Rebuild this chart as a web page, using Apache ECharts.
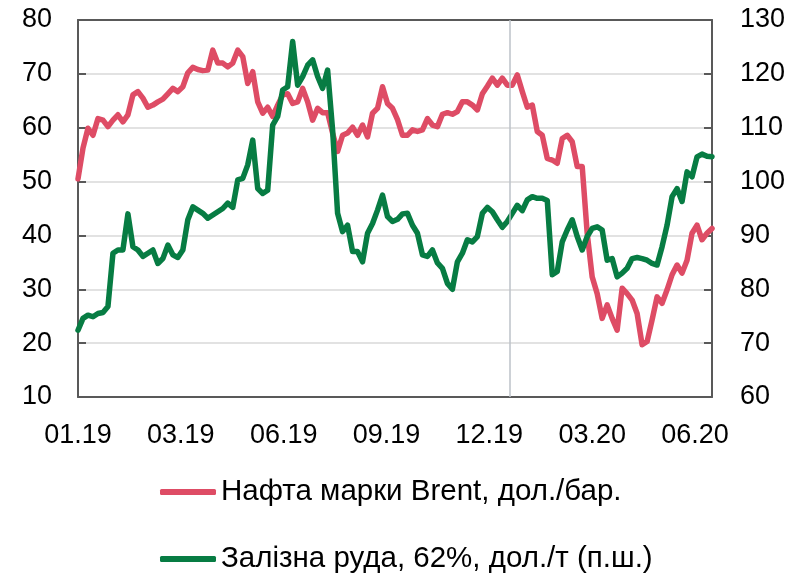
<!DOCTYPE html>
<html>
<head>
<meta charset="utf-8">
<script src="https://cdn.jsdelivr.net/npm/echarts@6/dist/echarts.min.js"></script>
<style>
html,body{margin:0;padding:0;background:#fff;}
#chart{width:802px;height:577px;}
</style>
</head>
<body>
<div id="chart"></div>
<script>
// x tick labels (evenly spaced along the sampled series)
var tickLabels = ['01.19','03.19','06.19','09.19','12.19','03.20','06.20'];
var tickStep = 20.6;          // samples between labels
var yearBreak = 86.5;         // sample position of 01.01.2020 separator

// Brent, USD/bbl (left axis), sampled evenly Jan 2019 - Jun 2020
var brent = [50.5,56.2,59.9,58.6,61.7,61.4,60.2,61.4,62.4,61.1,
  62.4,66.1,66.7,65.5,63.8,64.2,64.8,65.3,66.3,67.3,
  66.7,67.6,70.2,71.2,70.8,70.6,70.7,74.4,72.0,72.0,
  71.3,72.0,74.4,73.2,68.2,70.4,64.8,62.7,63.8,62.1,
  64.2,66.1,66.3,64.5,64.8,67.3,64.8,61.4,63.6,62.8,
  62.8,59.0,55.6,58.6,59.0,60.1,58.6,60.5,58.3,62.7,
  63.6,67.6,64.5,63.6,61.5,58.6,58.6,59.6,59.3,59.6,
  61.7,60.5,60.2,62.5,62.8,62.5,63.0,64.8,64.8,64.2,
  63.3,66.3,67.7,69.2,67.9,69.2,67.9,67.9,69.8,66.7,
  63.8,64.2,59.3,58.6,54.3,54.0,53.4,58.0,58.6,57.4,
  52.8,52.8,40.4,32.3,29.2,24.6,27.1,24.6,22.4,30.2,
  29.2,28.0,25.5,19.7,20.3,24.3,28.6,27.4,29.9,32.7,
  34.5,33.0,35.4,40.4,41.9,39.2,40.4,41.3];

// Iron ore 62%, USD/t (right axis)
var ore = [72.4,74.6,75.2,74.9,75.5,75.7,76.8,86.7,87.3,87.3,
  94.0,87.9,87.3,86.1,86.7,87.3,84.8,85.7,88.2,86.4,
  85.9,87.3,92.9,95.3,94.7,94.1,93.2,93.8,94.4,95.0,
  96.0,95.2,100.3,100.6,103.1,107.7,98.7,97.8,98.4,110.5,
  112.1,117.0,117.6,126.0,117.9,119.5,121.6,122.6,119.5,117.3,
  120.7,109.6,94.1,90.7,91.9,87.0,87.0,85.1,90.4,92.2,
  94.7,97.5,93.5,92.6,93.0,94.0,94.1,91.9,90.4,86.4,
  86.1,87.3,84.9,83.9,81.1,80.0,85.1,86.7,89.2,88.8,
  89.8,94.1,95.2,94.4,92.9,91.5,92.6,94.1,95.6,94.6,
  96.6,97.2,96.9,96.9,96.5,82.7,83.3,88.8,91.0,92.9,
  89.8,87.3,89.8,91.3,91.6,91.0,85.4,85.7,82.3,83.0,
  83.9,85.7,85.9,85.7,85.4,84.8,84.5,87.9,91.9,97.2,
  98.7,96.3,101.8,100.9,104.6,105.1,104.7,104.6];

var seriesNames = ['Нафта марки Brent, дол./бар.', 'Залізна руда, 62%, дол./т (п.ш.)'];

function pairs(arr){ return arr.map(function(v,i){ return [i, v]; }); }

var FONT = '"Liberation Sans", Arial, sans-serif';
var legendText = {fontFamily: FONT, fontSize: 29.5, color: '#000', lineHeight: 32};
var axisLineStyle = {color: '#595959', width: 2};

var chart = echarts.init(document.getElementById('chart'), null, {renderer:'canvas'});
chart.setOption({
  animation: false,
  backgroundColor: '#ffffff',
  grid: {left: 78, right: 90, top: 20, bottom: 180},
  legend: [{
    left: 155, top: 471, itemWidth: 56, itemHeight: 6, icon: 'roundRect',
    textStyle: legendText, data: [seriesNames[0]], selectedMode: false
  },{
    left: 155, top: 538, itemWidth: 56, itemHeight: 6, icon: 'roundRect',
    textStyle: legendText, data: [seriesNames[1]], selectedMode: false
  }],
  xAxis: [{
    type: 'value', min: 0, max: brent.length - 1, interval: tickStep,
    axisLine: {show: true, onZero: false, lineStyle: axisLineStyle},
    axisTick: {show: false},
    splitLine: {show: false},
    axisLabel: {
      fontFamily: FONT, fontSize: 27, color: '#000', margin: 25,
      showMaxLabel: false,
      formatter: function(v){
        var i = Math.round(v / tickStep);
        if (Math.abs(v / tickStep - i) > 0.01) return '';
        return tickLabels[i] || '';
      }
    }
  },{
    type: 'value', min: 0, max: brent.length - 1, position: 'top',
    axisLine: {show: true, onZero: false, lineStyle: axisLineStyle},
    axisTick: {show: false}, axisLabel: {show: false}, splitLine: {show: false}
  }],
  yAxis: [{
    type: 'value', min: 10, max: 80, interval: 10,
    axisLine: {show: true, onZero: false, lineStyle: axisLineStyle},
    axisTick: {show: true, inside: true, length: 8, lineStyle: axisLineStyle},
    splitLine: {show: true, lineStyle: {color: '#d9d9d9', width: 1.5}},
    axisLabel: {fontFamily: FONT, fontSize: 27, color: '#000', margin: 26}
  },{
    type: 'value', min: 60, max: 130, interval: 10, position: 'right',
    axisLine: {show: true, onZero: false, lineStyle: axisLineStyle},
    axisTick: {show: true, inside: true, length: 8, lineStyle: axisLineStyle},
    splitLine: {show: false},
    axisLabel: {fontFamily: FONT, fontSize: 27, color: '#000', margin: 28}
  }],
  series: [{
    name: seriesNames[0], type: 'line', yAxisIndex: 0, xAxisIndex: 0, data: pairs(brent),
    symbol: 'none', smooth: false,
    lineStyle: {color: '#de4c65', width: 5.5, cap: 'round', join: 'round'},
    itemStyle: {color: '#de4c65'}, z: 3,
    markLine: {
      silent: true, symbol: 'none', label: {show: false},
      lineStyle: {color: '#bcc2c8', width: 1.5, type: 'solid'},
      data: [{xAxis: yearBreak}]
    }
  },{
    name: seriesNames[1], type: 'line', yAxisIndex: 1, xAxisIndex: 0, data: pairs(ore),
    symbol: 'none', smooth: false,
    lineStyle: {color: '#077c43', width: 5.5, cap: 'round', join: 'round'},
    itemStyle: {color: '#077c43'}, z: 4
  }]
});
</script>
</body>
</html>
